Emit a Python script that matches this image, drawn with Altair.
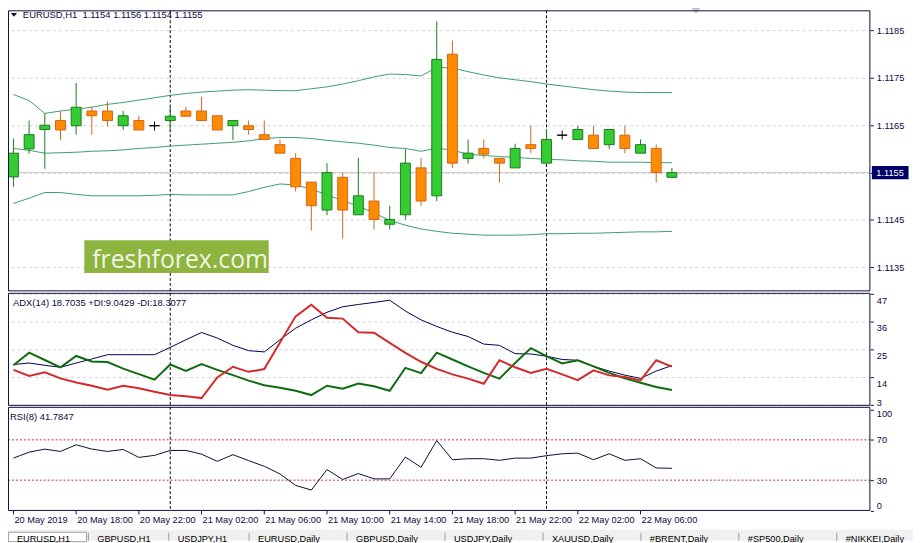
import altair as alt
import pandas as pd

# ---------------- data ----------------
hour_index = list(range(43))  # H1 bars, 20 May 2019 14:00 ... 22 May 2019 08:00

open_ = [1.11541, 1.11600, 1.11641, 1.11660, 1.11649, 1.11680, 1.11680, 1.11649, 1.11660, 1.11649,
         1.11660, 1.11680, 1.11680, 1.11670, 1.11649, 1.11649, 1.11630, 1.11609, 1.11580, 1.11530,
         1.11471, 1.11540, 1.11461, 1.11490, 1.11441, 1.11461, 1.11560, 1.11501, 1.11800, 1.11580,
         1.11601, 1.11580, 1.11560, 1.11609, 1.11570, 1.11629, 1.11620, 1.11629, 1.11609, 1.11629,
         1.11591, 1.11601, 1.11540]
high = [1.11622, 1.11660, 1.11675, 1.11680, 1.11739, 1.11689, 1.11700, 1.11680, 1.11670, 1.11658,
        1.11689, 1.11689, 1.11710, 1.11670, 1.11660, 1.11660, 1.11660, 1.11620, 1.11591, 1.11530,
        1.11570, 1.11550, 1.11581, 1.11550, 1.11480, 1.11600, 1.11581, 1.11869, 1.11829, 1.11620,
        1.11620, 1.11580, 1.11611, 1.11649, 1.11641, 1.11639, 1.11649, 1.11649, 1.11641, 1.11649,
        1.11620, 1.11609, 1.11560]
low = [1.11520, 1.11590, 1.11558, 1.11619, 1.11630, 1.11630, 1.11648, 1.11640, 1.11640, 1.11639,
       1.11637, 1.11669, 1.11660, 1.11640, 1.11619, 1.11630, 1.11620, 1.11591, 1.11510, 1.11428,
       1.11460, 1.11411, 1.11461, 1.11430, 1.11430, 1.11451, 1.11480, 1.11490, 1.11560, 1.11569,
       1.11580, 1.11529, 1.11560, 1.11591, 1.11570, 1.11620, 1.11620, 1.11601, 1.11600, 1.11591,
       1.11591, 1.11529, 1.11540]
close = [1.11591, 1.11630, 1.11650, 1.11640, 1.11688, 1.11670, 1.11660, 1.11670, 1.11640, 1.11649,
         1.11669, 1.11669, 1.11660, 1.11640, 1.11660, 1.11641, 1.11620, 1.11591, 1.11520, 1.11480,
         1.11550, 1.11471, 1.11501, 1.11451, 1.11451, 1.11570, 1.11490, 1.11789, 1.11570, 1.11591,
         1.11589, 1.11570, 1.11601, 1.11601, 1.11620, 1.11629, 1.11641, 1.11601, 1.11641, 1.11601,
         1.11609, 1.11550, 1.11550]

bb_upper = [1.11715, 1.11702, 1.11675, 1.11680, 1.11684, 1.11688, 1.11694, 1.11698, 1.11703, 1.11708,
            1.11713, 1.11717, 1.11720, 1.11722, 1.11724, 1.11725, 1.11724, 1.11723, 1.11723, 1.11727,
            1.11731, 1.11737, 1.11744, 1.11752, 1.11758, 1.11757, 1.11754, 1.11772, 1.11771, 1.11763,
            1.11756, 1.11750, 1.11746, 1.11742, 1.11737, 1.11733, 1.11729, 1.11725, 1.11722, 1.11720,
            1.11719, 1.11719, 1.11719]
bb_middle = [1.11601, 1.11597, 1.11591, 1.11592, 1.11593, 1.11595, 1.11596, 1.11598, 1.11601, 1.11603,
             1.11606, 1.11608, 1.11610, 1.11612, 1.11614, 1.11617, 1.11622, 1.11624, 1.11624, 1.11622,
             1.11618, 1.11615, 1.11612, 1.11608, 1.11603, 1.11601, 1.11595, 1.11602, 1.11597, 1.11589,
             1.11586, 1.11584, 1.11582, 1.11580, 1.11578, 1.11577, 1.11575, 1.11574, 1.11572, 1.11572,
             1.11572, 1.11571, 1.11571]
bb_lower = [1.11485, 1.11496, 1.11508, 1.11508, 1.11504, 1.11501, 1.11501, 1.11501, 1.11501, 1.11502,
            1.11504, 1.11503, 1.11503, 1.11503, 1.11503, 1.11510, 1.11519, 1.11526, 1.11524, 1.11515,
            1.11503, 1.11491, 1.11479, 1.11465, 1.11449, 1.11439, 1.11431, 1.11426, 1.11422, 1.11420,
            1.11418, 1.11418, 1.11418, 1.11419, 1.11421, 1.11421, 1.11422, 1.11422, 1.11423, 1.11424,
            1.11425, 1.11425, 1.11426]

adx = [19.1, 19.7, 18.8, 18.0, 19.7, 21.3, 23.0, 23.0, 23.0, 23.0,
       25.9, 28.9, 31.8, 29.6, 26.7, 24.6, 24.1, 28.9, 33.5, 36.8,
       39.8, 42.0, 42.9, 43.7, 44.6, 40.3, 36.8, 34.2, 31.9, 30.2,
       27.2, 26.7, 23.4, 23.3, 22.4, 21.1, 20.8, 18.4, 16.5, 14.9,
       13.6, 16.5, 18.7]
plus_di = [18.8, 23.8, 20.9, 18.0, 22.5, 20.3, 20.1, 17.5, 15.3, 13.1,
           19.1, 16.6, 19.3, 17.0, 14.9, 12.7, 10.9, 9.9, 8.7, 7.0,
           10.7, 9.5, 11.6, 10.5, 8.7, 17.8, 15.7, 23.8, 21.1, 18.4,
           15.8, 13.5, 19.7, 25.6, 22.4, 19.5, 20.8, 18.4, 15.8, 13.6,
           11.9, 10.2, 9.0]
minus_di = [17.0, 14.6, 16.0, 13.6, 12.0, 10.7, 9.1, 10.7, 9.7, 8.3,
            7.0, 6.5, 5.8, 14.0, 18.2, 16.2, 17.3, 27.8, 38.2, 42.8,
            37.6, 37.3, 31.9, 31.7, 27.7, 23.7, 20.2, 17.4, 15.2, 13.5,
            11.5, 20.8, 18.0, 15.8, 17.4, 15.2, 12.9, 16.8, 14.8, 14.2,
            12.8, 20.8, 18.3]
rsi = [51.9, 57.8, 60.8, 58.5, 65.1, 60.8, 58.5, 60.5, 52.6, 54.6,
       59.5, 59.5, 55.8, 48.7, 55.3, 49.4, 43.8, 36.2, 24.8, 20.2,
       40.5, 30.7, 36.6, 31.3, 31.3, 52.9, 42.8, 69.3, 50.3, 51.3,
       51.3, 49.7, 51.9, 51.9, 54.3, 56.2, 56.8, 50.3, 56.2, 49.7,
       51.3, 42.1, 41.8]

time_tick_hours = [0, 4, 8, 12, 16, 20, 24, 28, 32, 36, 40]
time_tick_labels = ["20 May 2019", "20 May 18:00", "20 May 22:00", "21 May 02:00", "21 May 06:00",
                    "21 May 10:00", "21 May 14:00", "21 May 18:00", "21 May 22:00", "22 May 02:00",
                    "22 May 06:00"]
grid_hours = list(range(0, 55, 2))
day_breaks = [10, 34]
price_ticks = [1.1135, 1.1145, 1.1155, 1.1165, 1.1175, 1.1185]
last_price = 1.1155
adx_ticks = [3, 14, 25, 36, 47]
rsi_ticks = [0, 30, 70, 100]
rsi_levels = [30, 70]
price_title = "EURUSD,H1 \u00a01.1154 1.1156 1.1154 1.1155"
adx_title = "ADX(14) 18.7035 +DI:9.0429 -DI:18.3077"
rsi_title = "RSI(8) 41.7847"
watermark = "freshforex.com"
tabs = ["EURUSD,H1", "GBPUSD,H1", "USDJPY,H1", "EURUSD,Daily", "GBPUSD,Daily", "USDJPY,Daily",
        "XAUUSD,Daily", "#BRENT,Daily", "#SP500,Daily", "#NIKKEI,Daily"]

# ---------------- styling ----------------
FONT = "Liberation Sans"
FS = 9.3       # axis labels
FT = 9.5       # panel titles
INK = "#0b0b40"
GRID = "#d2d2d2"
FRAME = "#0d0d3d"
G_FILL, G_EDGE = "#33cc33", "#1e7a1e"
O_FILL, O_EDGE = "#ff8c00", "#d0661a"
BB = "#3c9f6c"
W, H = 870, 504.5

# ---------------- tables ----------------
candles = pd.DataFrame({"k": hour_index, "open": open_, "high": high, "low": low, "close": close})
candles["dir"] = ["up" if c > o else ("down" if c < o else "doji") for o, c in zip(open_, close)]
candles["body_lo"] = candles[["open", "close"]].min(axis=1)
candles["body_hi"] = candles[["open", "close"]].max(axis=1)

bands = pd.DataFrame({"k": hour_index, "upper": bb_upper, "middle": bb_middle, "lower": bb_lower}).melt(
    "k", var_name="band", value_name="v")
ind = pd.DataFrame({"k": hour_index, "adx": adx, "pdi": plus_di, "mdi": minus_di, "rsi": rsi})
one = pd.DataFrame({"a": [0]})
tticks = pd.DataFrame({"k": time_tick_hours, "label": time_tick_labels})

X = alt.Scale(domain=[-0.03125, 54.34375], nice=False, zero=False)
PRICE = alt.Scale(domain=[1.113004, 1.118925], range=[283, 0], nice=False, zero=False)
ADXS = alt.Scale(domain=[3, 47], range=[398.3, 286.3], nice=False, zero=False)
RSIS = alt.Scale(domain=[0, 100], range=[504.5, 402.8], nice=False, zero=False)
xk = alt.X("k:Q", scale=X, axis=None)

dirs = ["up", "down", "doji"]

lab = dict(labelFont=FONT, labelFontSize=FS, labelColor=INK, title=None, domain=False,
           tickColor=INK, tickSize=3, labelPadding=3)

# --- price panel ---
bid = alt.Chart(pd.DataFrame({"p": [last_price]})).mark_rule(color="#c8c8c8", strokeWidth=1).encode(
    y=alt.Y("p:Q", scale=PRICE, axis=alt.Axis(orient="right", values=price_ticks, format=".4f",
                                               grid=True, gridDash=[3, 3], gridColor=GRID, **lab)))
seps = alt.Chart(pd.DataFrame({"k": day_breaks})).mark_rule(color="#000000", strokeDash=[3, 2], strokeWidth=1).encode(
    x=alt.X("k:Q", scale=X, axis=alt.Axis(values=grid_hours, grid=True, gridDash=[3, 3], gridColor=GRID,
                                          labels=False, ticks=False, domain=False, title=None)),
    y=alt.value(0), y2=alt.value(H))
band_lines = alt.Chart(bands).mark_line(strokeWidth=1, color=BB).encode(
    x=xk, y=alt.Y("v:Q", scale=PRICE, axis=None), detail="band:N")
wicks = alt.Chart(candles).mark_rule(strokeWidth=1).encode(
    x=xk, y=alt.Y("low:Q", scale=PRICE, axis=None), y2="high:Q",
    color=alt.Color("dir:N", scale=alt.Scale(domain=dirs, range=[G_EDGE, O_EDGE, "#000000"]), legend=None))
bodies = alt.Chart(candles).mark_bar(size=10, strokeWidth=1).encode(
    x=xk, y=alt.Y("body_lo:Q", scale=PRICE, axis=None), y2="body_hi:Q",
    fill=alt.Fill("dir:N", scale=alt.Scale(domain=dirs, range=[G_FILL, O_FILL, "#000000"]), legend=None),
    stroke=alt.Stroke("dir:N", scale=alt.Scale(domain=dirs, range=[G_EDGE, O_EDGE, "#000000"]), legend=None))

tag = pd.DataFrame({"p": [last_price], "t": [f"{last_price:.4f}"]})
tag_box = alt.Chart(tag).mark_point(shape="M-1,-0.36L1,-0.36L1,0.36L-1,0.36Z", size=1369, filled=True,
                                    fill="#000066", opacity=1, strokeWidth=0).encode(
    x=alt.value(890), y=alt.Y("p:Q", scale=PRICE, axis=None))
tag_txt = alt.Chart(tag).mark_text(align="left", baseline="middle", font=FONT, fontSize=FS, color="#ffffff").encode(
    x=alt.value(876), y=alt.Y("p:Q", scale=PRICE, axis=None), text="t:N")

wm_box = alt.Chart(one).mark_rect(color="#8cb43f").encode(
    x=alt.value(77), x2=alt.value(263), y=alt.value(232), y2=alt.value(265))
wm_txt = alt.Chart(pd.DataFrame({"t": [watermark]})).mark_text(
    align="left", baseline="alphabetic", font="Open Sans", fontSize=25, color="#f2f5e4").encode(
    x=alt.value(85), y=alt.value(260), text="t:N")

titles = pd.DataFrame({"t": [price_title, adx_title, rsi_title]})
t_price = alt.Chart(titles.iloc[[0]]).mark_text(align="left", baseline="middle", font=FONT, fontSize=FT, color=INK).encode(
    x=alt.value(15), y=alt.value(4.5), text="t:N")
t_adx = alt.Chart(titles.iloc[[1]]).mark_text(align="left", baseline="middle", font=FONT, fontSize=FT, color=INK).encode(
    x=alt.value(5), y=alt.value(295), text="t:N")
t_rsi = alt.Chart(titles.iloc[[2]]).mark_text(align="left", baseline="middle", font=FONT, fontSize=FT, color=INK).encode(
    x=alt.value(2), y=alt.value(410.5), text="t:N")
tri = alt.Chart(one).mark_point(shape="M-1,-0.55L1,-0.55L0,0.6Z", size=40, filled=True, fill=INK, opacity=1,
                                strokeWidth=0).encode(x=alt.value(6), y=alt.value(4.5))
shift_mark = alt.Chart(one).mark_point(shape="M-1,-0.6L1,-0.6L0,0.6Z", size=110, filled=True, fill="#c4c4c4",
                                       opacity=1, strokeWidth=0).encode(x=alt.value(694), y=alt.value(0))

# --- ADX panel ---
adx_ax = alt.Axis(orient="right", values=adx_ticks, grid=True, gridDash=[3, 3], gridColor=GRID,
                  labelBaseline={"condition": {"test": "datum.value <= 3", "value": "bottom"}, "value": "top"},
                  labelOffset=2, **lab)
adx_line = alt.Chart(ind).mark_line(strokeWidth=1, color="#000050").encode(
    x=xk, y=alt.Y("adx:Q", scale=ADXS, axis=adx_ax))
pdi_line = alt.Chart(ind).mark_line(strokeWidth=2, color="#106b10").encode(
    x=xk, y=alt.Y("pdi:Q", scale=ADXS, axis=None))
mdi_line = alt.Chart(ind).mark_line(strokeWidth=2, color="#d42a2a").encode(
    x=xk, y=alt.Y("mdi:Q", scale=ADXS, axis=None))

# --- RSI panel ---
rsi_line = alt.Chart(ind).mark_line(strokeWidth=1, color="#0b0b3b").encode(
    x=xk,
    y=alt.Y("rsi:Q", scale=RSIS, axis=alt.Axis(orient="right", values=rsi_ticks, grid=False,
                                                labelFlush=True, **lab)))
rsi_lv = alt.Chart(pd.DataFrame({"v": rsi_levels})).mark_rule(color="#c0302b", strokeDash=[2, 2], strokeWidth=1).encode(
    y=alt.Y("v:Q", scale=RSIS, axis=None))

# --- time scale labels and ticks (placed through the shared x scale) ---
time_ticks = alt.Chart(tticks).mark_rule(color=INK, strokeWidth=1).encode(
    x=xk, y=alt.value(H), y2=alt.value(H + 4))
time_labels = alt.Chart(tticks).mark_text(align="left", baseline="top", font=FONT, fontSize=FS, color=INK, dx=1).encode(
    x=xk, y=alt.value(H + 6), text="label:N")

# --- frames ---
def frame(y0, y1):
    return alt.Chart(one).mark_rect(fillOpacity=0, stroke=FRAME, strokeWidth=1).encode(
        x=alt.value(0.5), x2=alt.value(W - 0.5), y=alt.value(y0), y2=alt.value(y1))

frames = [frame(0.5, 283), frame(285.5, 398.5), frame(400.5, 504.5)]

# --- tab strip ---
tab_x, pos = [], 0.0
for name in tabs:
    tab_x.append(pos)
    pos += 5.9 * len(name) + 28
tab_df = pd.DataFrame({"name": tabs, "px": tab_x})
tab_bg = alt.Chart(one).mark_rect(color="#f0f0f0").encode(
    x=alt.value(0), x2=alt.value(913), y=alt.value(524), y2=alt.value(535))
tab_sel = alt.Chart(one).mark_rect(color="#ffffff", stroke="#a0a0a0", strokeWidth=1).encode(
    x=alt.value(tab_x[0] + 0.5), x2=alt.value(tab_x[1] - 2), y=alt.value(526.5), y2=alt.value(536))
tab_sep = alt.Chart(tab_df.iloc[1:]).mark_rule(color="#9a9a9a", strokeWidth=1).encode(
    x=alt.X("px:Q", scale=None, axis=None), y=alt.value(527), y2=alt.value(535))
tab_txt = alt.Chart(tab_df).mark_text(align="left", baseline="top", font=FONT, fontSize=FS, color="#000000", dx=9).encode(
    x=alt.X("px:Q", scale=None, axis=None), y=alt.value(529.5), text="name:N")

layers = [bid, seps, band_lines, wicks, bodies, wm_box, wm_txt,
          adx_line, pdi_line, mdi_line, rsi_lv, rsi_line, time_ticks, time_labels,
          t_price, t_adx, t_rsi, tri, shift_mark] + frames + [tag_box, tag_txt, tab_bg, tab_sel, tab_sep, tab_txt]

chart = alt.layer(*layers).resolve_scale(
    y="independent", color="independent", fill="independent", stroke="independent"
).properties(
    width=W, height=H,
    padding={"left": 0, "top": 0, "right": 43, "bottom": 30.5},
    autosize=alt.AutoSizeParams(type="none"),
).configure_view(stroke=None)

chart.save("out.html", embed_options={"renderer": "svg", "actions": False})
